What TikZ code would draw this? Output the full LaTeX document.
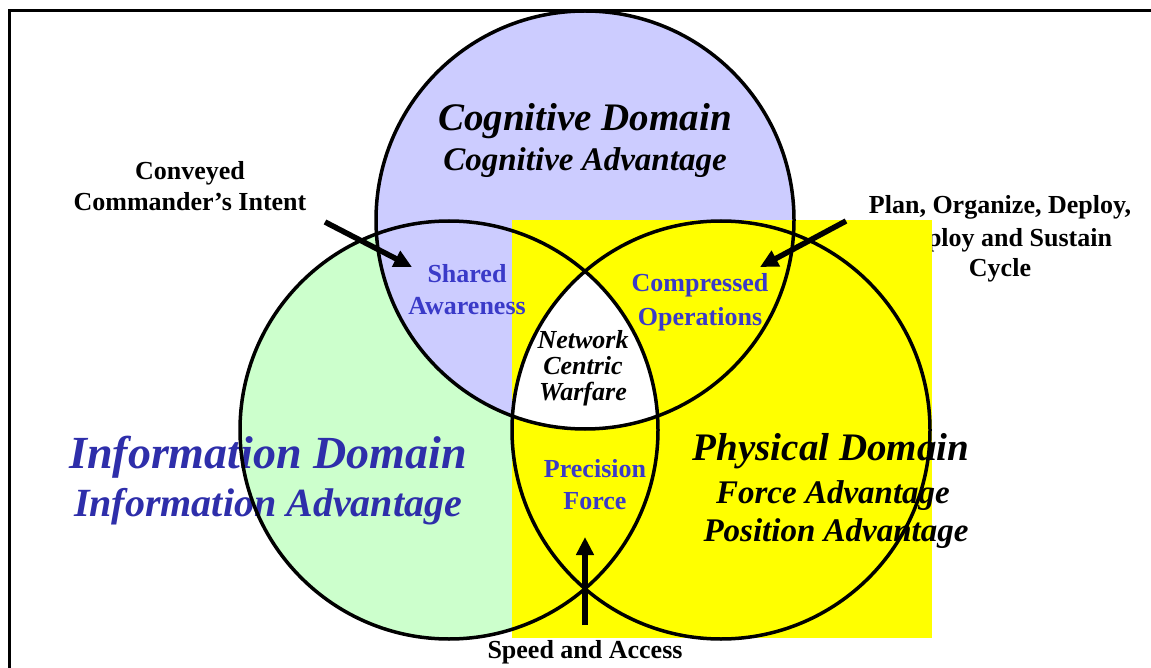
\documentclass[tikz,border=0pt]{standalone}
\usepackage{fontspec}
\setmainfont{Liberation Serif}
\usepackage{tikz}
\usetikzlibrary{arrows.meta}
\definecolor{cogblue}{RGB}{204,204,255}
\definecolor{infogreen}{RGB}{204,255,204}
\definecolor{physyellow}{RGB}{255,255,0}
\definecolor{infotext}{RGB}{46,46,170}
\definecolor{effecttext}{RGB}{58,58,200}
\tikzset{
  dom/.style={inner sep=0pt, anchor=base, font=\bfseries\itshape\fontsize{#1}{#1}\selectfont},
  effect/.style={inner sep=0pt, anchor=base, text=effecttext, font=\bfseries\fontsize{26}{26}\selectfont},
  callout/.style={inner sep=0pt, anchor=base, font=\bfseries\fontsize{26}{26}\selectfont},
  ncw/.style={inner sep=0pt, anchor=base, font=\bfseries\itshape\fontsize{26}{26}\selectfont},
  rim/.style={line width=3.5pt},
  pointer/.style={line width=5.5pt, -{Triangle[length=18pt,width=17pt]}}
}

\begin{document}
\begin{tikzpicture}[x=1pt, y=-1pt]
\useasboundingbox (0,0) rectangle (1151,668);
\draw[line width=3.5pt] (9.5,668) -- (9.5,10.5) -- (1151,10.5);
\coordinate (cog) at (585,220);
\coordinate (info) at (449,430);
\coordinate (phys) at (721,430);
\fill[infogreen] (info) circle[radius=209pt];
\fill[cogblue] (cog) circle[radius=209pt];
\node[callout] (cycle1) at (1000,214) {Plan, Organize, Deploy,};
\node[callout] (cycle2) at (1000,247) {Employ and Sustain};
\node[callout] (cycle3) at (1000,277) {Cycle};
\fill[physyellow] (512,220) rectangle (932,638);
\begin{scope}
\clip (cog) circle[radius=209pt];
\clip (info) circle[radius=209pt];
\fill[white] (phys) circle[radius=209pt];
\end{scope}
\node[dom=39] (cogdom) at (585,131) {Cognitive Domain};
\node[dom=33] (cogadv) at (585,171) {Cognitive Advantage};
\node[dom=46, text=infotext] (infodom) at (268,468) {Information Domain};
\node[dom=40, text=infotext] (infoadv) at (268,516) {Information Advantage};
\node[dom=39] (physdom) at (831,460) {Physical Domain};
\node[dom=33] (forceadv) at (833,503) {Force Advantage};
\node[dom=33] (posadv) at (836,541) {Position Advantage};
\node[effect] (shared1) at (467,283) {Shared};
\node[effect] (shared2) at (467,314) {Awareness};
\node[effect] (comp1) at (700,291) {Compressed};
\node[effect] (comp2) at (700,325) {Operations};
\node[effect] (prec1) at (595,477) {Precision};
\node[effect] (prec2) at (595,509) {Force};
\node[ncw] (ncw1) at (583,348) {Network};
\node[ncw] (ncw2) at (583,374) {Centric};
\node[ncw] (ncw3) at (583,400) {Warfare};
\node[callout] (intent1) at (190,180) {Conveyed};
\node[callout] (intent2) at (190,211) {Commander’s Intent};
\node[callout] (speed) at (585,658) {Speed and Access};
\draw[rim] (cog) circle[radius=209pt];
\draw[rim] (info) circle[radius=209pt];
\draw[rim] (phys) circle[radius=209pt];
\coordinate (intenttail) at (325,222);
\coordinate (sharedtip) at (412,267);
\coordinate (cycletail) at (846,221);
\coordinate (comptip) at (760,267);
\coordinate (speedtail) at (585,625);
\coordinate (prectip) at (585,537);
\draw[pointer] (intenttail) -- (sharedtip);
\draw[pointer] (cycletail) -- (comptip);
\draw[pointer] (speedtail) -- (prectip);
\end{tikzpicture}
\end{document}
